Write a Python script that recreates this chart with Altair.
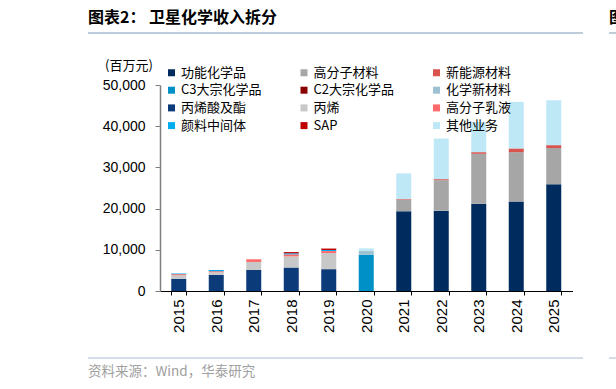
import altair as alt
import pandas as pd

years = ["2015", "2016", "2017", "2018", "2019", "2020", "2021", "2022", "2023", "2024", "2025"]

series_names = ["功能化学品", "高分子材料", "新能源材料",
                "C3大宗化学品", "C2大宗化学品", "化学新材料",
                "丙烯酸及酯", "丙烯", "高分子乳液",
                "颜料中间体", "SAP", "其他业务"]
series_colors = ["#002B5E", "#A6A6A6", "#D9534F",
                 "#0090C8", "#8B0000", "#9CC2D2",
                 "#0B3B78", "#C8C8C8", "#FF6B6B",
                 "#00AEEF", "#C00000", "#BFE8F7"]

functional_chem = [0, 0, 0, 0, 0, 0, 19350, 19500, 21200, 21700, 25900]
polymer_mat = [0, 0, 0, 0, 0, 0, 2850, 7400, 12100, 12000, 8800]
new_energy = [0, 0, 0, 0, 0, 0, 150, 250, 400, 900, 700]
c3_bulk = [0, 0, 0, 0, 0, 8800, 0, 0, 0, 0, 0]
c2_bulk = [0, 0, 0, 0, 0, 0, 0, 0, 0, 0, 0]
new_chem_mat = [0, 0, 0, 0, 0, 900, 0, 0, 0, 0, 0]
acrylic = [2950, 3900, 5100, 5700, 5300, 0, 0, 0, 0, 0, 0]
propylene = [900, 650, 1950, 2700, 3900, 0, 0, 0, 0, 0, 0]
emulsion = [250, 250, 650, 500, 500, 0, 0, 0, 0, 0, 0]
pigment_int = [150, 300, 0, 250, 250, 0, 0, 0, 0, 0, 0]
sap = [0, 0, 0, 300, 350, 0, 0, 0, 0, 0, 0]
other = [0, 0, 0, 0, 0, 650, 6200, 9850, 7300, 11300, 10900]

y_ticks = [0, 10000, 20000, 30000, 40000, 50000]

series_values = [functional_chem, polymer_mat, new_energy, c3_bulk, c2_bulk, new_chem_mat,
                 acrylic, propylene, emulsion, pigment_int, sap, other]

rows = []
for i, name in enumerate(series_names):
    for yr, v in zip(years, series_values[i]):
        rows.append({"year": yr, "series": name, "value": v, "order": i})
df = pd.DataFrame(rows)

W, H = 412.5, 206
LEFT, TOP = 160, 85
FONT_CJK = "Noto Sans CJK SC"
FONT_LAT = "Liberation Sans"

bars = alt.Chart(df).mark_bar().encode(
    x=alt.X("year:N", sort=years,
            scale=alt.Scale(paddingInner=0.6, paddingOuter=0.3),
            axis=alt.Axis(title=None, labelAngle=270, tickBand="extent", tickSize=4,
                          labelFont=FONT_LAT, labelFontSize=15, labelColor="#000000",
                          labelPadding=4, domainColor="#000000", domainWidth=1,
                          tickColor="#000000")),
    y=alt.Y("value:Q", stack="zero",
            scale=alt.Scale(domain=[0, 50000], nice=False),
            axis=alt.Axis(title=None, values=y_ticks,
                          labelExpr="format(datum.value, ',.0f')",
                          tickSize=5, labelPadding=10, grid=False,
                          labelFont=FONT_LAT, labelFontSize=14, labelColor="#000000",
                          domainColor="#808080", domainWidth=1.5, tickColor="#808080")),
    color=alt.Color("series:N",
                    scale=alt.Scale(domain=series_names, range=series_colors),
                    legend=alt.Legend(title=None, orient="none", legendX=5, legendY=-19,
                                      direction="horizontal",
                                      columns=3, gridAlign="all", columnPadding=35.5,
                                      rowPadding=3.7, symbolType="square", symbolSize=49,
                                      symbolStrokeWidth=0, labelFont=FONT_CJK,
                                      labelFontSize=13, labelColor="#000000",
                                      labelOffset=3, padding=0)),
    order=alt.Order("order:Q"),
)

one = pd.DataFrame({"k": [0]})

title = alt.Chart(one).mark_text(align="left", baseline="middle", font=FONT_CJK,
                                 fontSize=16, fontWeight="bold", color="#000000").encode(
    x=alt.value(88 - LEFT), y=alt.value(18 - TOP), text=alt.value("图表2： 卫星化学收入拆分"))

title_right = alt.Chart(one).mark_text(align="left", baseline="middle", font=FONT_CJK,
                                       fontSize=16, fontWeight="bold", color="#000000").encode(
    x=alt.value(609 - LEFT), y=alt.value(18 - TOP), text=alt.value("图"))

unit = alt.Chart(one).mark_text(align="center", baseline="middle", font=FONT_CJK,
                                fontSize=13, color="#000000").encode(
    x=alt.value(129 - LEFT), y=alt.value(66 - TOP), text=alt.value("(百万元)"))

source = alt.Chart(one).mark_text(align="left", baseline="middle", font=FONT_CJK,
                                  fontSize=13.5, color="#A0A0A0").encode(
    x=alt.value(88 - LEFT), y=alt.value(372 - TOP), text=alt.value("资料来源：Wind，华泰研究"))

line_top = alt.Chart(one).mark_rule(color="#A9BCD0", strokeWidth=1.5).encode(
    x=alt.value(88 - LEFT), x2=alt.value(583 - LEFT), y=alt.value(33 - TOP))
line_top_r = alt.Chart(one).mark_rule(color="#A9BCD0", strokeWidth=1.5).encode(
    x=alt.value(609 - LEFT), x2=alt.value(640 - LEFT), y=alt.value(33 - TOP))
line_bot = alt.Chart(one).mark_rule(color="#C5D3E0", strokeWidth=1.5).encode(
    x=alt.value(88 - LEFT), x2=alt.value(583 - LEFT), y=alt.value(358 - TOP))
line_bot_r = alt.Chart(one).mark_rule(color="#C5D3E0", strokeWidth=1.5).encode(
    x=alt.value(609 - LEFT), x2=alt.value(640 - LEFT), y=alt.value(358 - TOP))

chart = alt.layer(bars, title, title_right, unit, source,
                  line_top, line_top_r, line_bot, line_bot_r).properties(
    width=W, height=H,
    autosize=alt.AutoSizeParams(type="none"),
    padding={"left": LEFT, "top": TOP, "right": 616 - LEFT - W, "bottom": 389 - TOP - H},
    background="#FFFFFF",
).configure_view(stroke=None)

chart.save("out.html", embed_options={"renderer": "svg", "actions": False})
